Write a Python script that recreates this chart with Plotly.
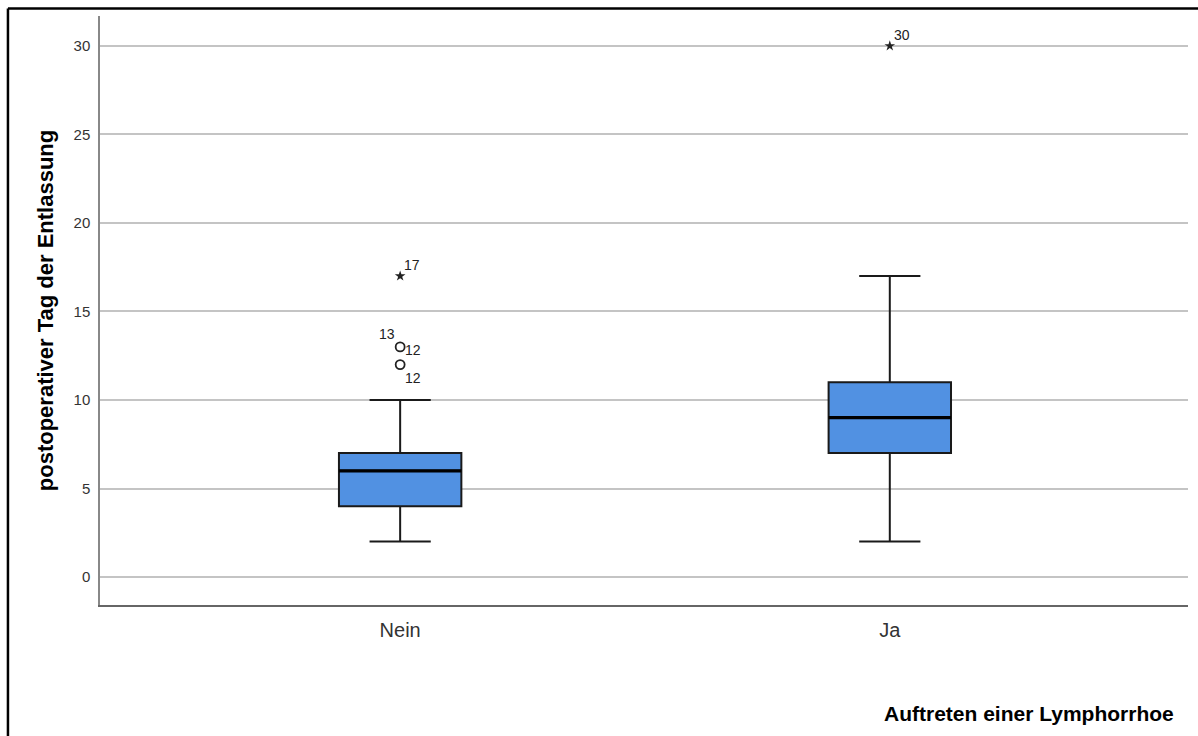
import plotly.graph_objects as go

# Group labels and summary statistics (days after surgery)
categories = ["Nein", "Ja"]
positions = [0, 1]
lower_whisker = [2, 2]
q1 = [4, 7]
median = [6, 9]
q3 = [7, 11]
upper_whisker = [10, 17]

# Outliers (circles) and extreme values (stars) with case labels
outlier_x = [0, 0]
outlier_y = [12, 13]
extreme_x = [0, 1]
extreme_y = [17, 30]
extreme_labels = ["17", "30"]

# Case labels around the outlier circles: (x, y, text, anchor side)
outlier_labels = [
    (0, 13, "13", "upper-left"),
    (0, 13, "12", "right"),
    (0, 12, "12", "lower-right"),
]

BOX_WIDTH = 0.25
FONT = "Liberation Sans, Arial, sans-serif"

fig = go.Figure()

for pos, lo, a, m, b, hi in zip(positions, lower_whisker, q1, median, q3, upper_whisker):
    fig.add_trace(go.Box(
        x=[pos], q1=[a], median=[m], q3=[b],
        lowerfence=[lo], upperfence=[hi],
        width=BOX_WIDTH, whiskerwidth=0.5,
        fillcolor="#5191e2",
        line=dict(color="#1a1a1a", width=2),
        boxpoints=False, hoverinfo="skip",
        showlegend=False,
    ))
    # Thicker median bar
    fig.add_trace(go.Scatter(
        x=[pos - BOX_WIDTH / 2, pos + BOX_WIDTH / 2], y=[m, m],
        mode="lines", line=dict(color="#000000", width=3.2),
        hoverinfo="skip", showlegend=False,
    ))

fig.add_trace(go.Scatter(
    x=outlier_x, y=outlier_y, mode="markers",
    marker=dict(symbol="circle-open", size=9, color="#222222",
                line=dict(width=1.8, color="#222222")),
    hoverinfo="skip", showlegend=False,
))

fig.add_trace(go.Scatter(
    x=extreme_x, y=extreme_y, mode="markers",
    marker=dict(symbol="star", size=8, color="#222222",
                line=dict(width=0)),
    hoverinfo="skip", showlegend=False,
))

LABEL_FONT = dict(family=FONT, size=14, color="#222222")

annotations = []
for xv, yv, txt in zip(extreme_x, extreme_y, extreme_labels):
    annotations.append(dict(
        x=xv, y=yv, xref="x", yref="y", text=txt, showarrow=False,
        xanchor="left", yanchor="bottom", xshift=2, yshift=1,
        font=LABEL_FONT,
    ))

offsets = {
    "upper-left": dict(xanchor="right", yanchor="bottom", xshift=-3, yshift=3),
    "right": dict(xanchor="left", yanchor="middle", xshift=3, yshift=-3),
    "lower-right": dict(xanchor="left", yanchor="top", xshift=3, yshift=-3),
}
for xv, yv, txt, side in outlier_labels:
    annotations.append(dict(
        x=xv, y=yv, xref="x", yref="y", text=txt, showarrow=False,
        font=LABEL_FONT, **offsets[side],
    ))

annotations.append(dict(
    x=1.0, y=-0.185, xref="paper", yref="paper",
    text="<b>Auftreten einer Lymphorrhoe</b>", showarrow=False,
    xanchor="right", yanchor="middle", xshift=-12,
    font=dict(family=FONT, size=21, color="#000000"),
))

# Frame around the chart (top and left edges)
shapes = [
    dict(type="line", xref="paper", yref="paper",
         x0=-0.0846, x1=1.02, y0=1.0127, y1=1.0127,
         line=dict(color="#000000", width=2.5)),
    dict(type="line", xref="paper", yref="paper",
         x0=-0.0846, x1=-0.0846, y0=1.0127, y1=-0.23,
         line=dict(color="#000000", width=2.5)),
]

fig.update_layout(
    width=1198, height=736,
    margin=dict(l=100, r=10, t=16, b=131),
    paper_bgcolor="white", plot_bgcolor="white",
    font=dict(family=FONT),
    annotations=annotations,
    shapes=shapes,
    xaxis=dict(
        range=[-0.613, 1.609],
        tickmode="array", tickvals=positions, ticktext=categories,
        showgrid=False, zeroline=False,
        showline=True, linecolor="#666666", linewidth=1.5,
        ticks="", ticklabelstandoff=6,
        tickfont=dict(family=FONT, size=20, color="#333333"),
    ),
    yaxis=dict(
        range=[-1.58, 31.69],
        tickmode="array", tickvals=[0, 5, 10, 15, 20, 25, 30],
        showgrid=True, gridcolor="#c4c4c4", gridwidth=1.5,
        zeroline=False,
        showline=True, linecolor="#888888", linewidth=1.5,
        ticks="", ticklabelstandoff=5,
        tickfont=dict(family=FONT, size=15, color="#333333"),
        title=dict(text="<b>postoperativer Tag der Entlassung</b>",
                   font=dict(family=FONT, size=22, color="#000000"),
                   standoff=14),
    ),
)

fig.write_html("out.html")
